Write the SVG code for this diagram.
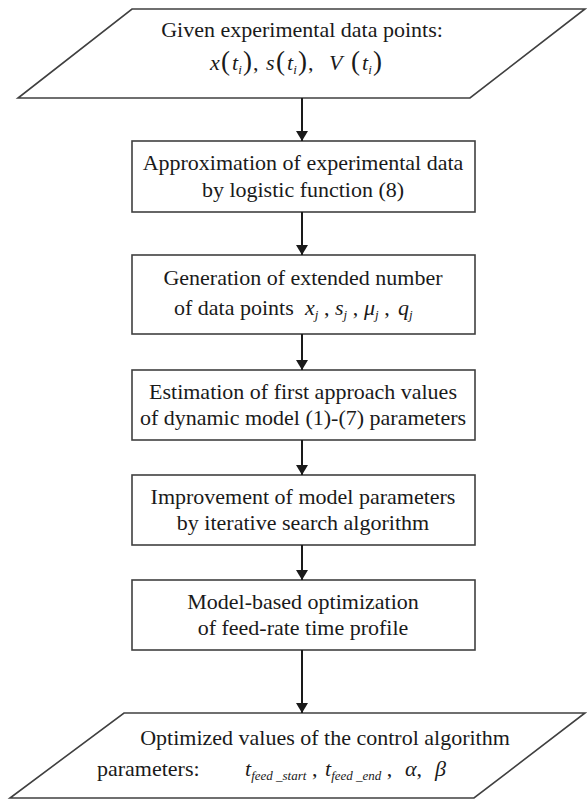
<svg xmlns="http://www.w3.org/2000/svg" width="587" height="801" viewBox="0 0 587 801">
<defs>
<style>
.shape{fill:#fff;stroke:#404040;stroke-width:1.6}
.t{font-family:'Liberation Serif','Times New Roman',Tinos,'DejaVu Serif',serif;font-size:22px;fill:#1a1a1a;text-anchor:middle}
.s{text-anchor:start}
.m{font-style:italic}
.sub{font-size:13px;font-style:italic}
.p{font-size:27px}
.conn line{stroke:#1a1a1a;stroke-width:2}
</style>
<marker id="ah" viewBox="0 0 10 12" refX="10" refY="6" markerWidth="12" markerHeight="12" markerUnits="userSpaceOnUse" orient="auto">
<path d="M0,0 L10,6 L0,12 z" fill="#1a1a1a"/>
</marker>
</defs>
<rect width="587" height="801" fill="#fff"/>
<g id="input">
<polygon class="shape" points="132,9 585,9 470,98 18,98"/>
<text class="t" x="302" y="37">Given experimental data points:</text>
<text class="t s" y="70"><tspan x="210" class="m">x</tspan><tspan x="221" class="p">(</tspan><tspan x="232" class="m">t</tspan><tspan class="sub" dy="4">i</tspan><tspan x="243" class="p" dy="-4">)</tspan><tspan x="253">,</tspan><tspan x="266" class="m">s</tspan><tspan x="276" class="p">(</tspan><tspan x="287" class="m">t</tspan><tspan class="sub" dy="4">i</tspan><tspan x="298" class="p" dy="-4">)</tspan><tspan x="308">,</tspan><tspan x="329" class="m">V</tspan><tspan x="351" class="p">(</tspan><tspan x="362" class="m">t</tspan><tspan class="sub" dy="4">i</tspan><tspan x="373" class="p" dy="-4">)</tspan></text>
</g>
<g id="approx">
<rect class="shape" x="132" y="141" width="343" height="71"/>
<text class="t" x="303" y="170">Approximation of experimental data</text>
<text class="t" x="303" y="197">by logistic function (8)</text>
</g>
<g id="generation">
<rect class="shape" x="132" y="255" width="343" height="79"/>
<text class="t" x="303" y="285">Generation of extended number</text>
<text class="t s" x="174" y="315">of data points<tspan x="305" class="m">x</tspan><tspan class="sub" dy="4">j</tspan><tspan dy="-4"> ,</tspan><tspan x="335" class="m">s</tspan><tspan class="sub" dy="4">j</tspan><tspan dy="-4"> ,</tspan><tspan x="364" class="m">μ</tspan><tspan class="sub" dy="4">j</tspan><tspan dy="-4"> ,</tspan><tspan x="398" class="m">q</tspan><tspan class="sub" dy="4">j</tspan></text>
</g>
<g id="estimation">
<rect class="shape" x="132" y="370" width="343" height="70"/>
<text class="t" x="303" y="399">Estimation of first approach values</text>
<text class="t" x="303" y="425">of dynamic model (1)-(7) parameters</text>
</g>
<g id="improvement">
<rect class="shape" x="132" y="475" width="343" height="70"/>
<text class="t" x="303" y="504">Improvement of model parameters</text>
<text class="t" x="303" y="530">by iterative search algorithm</text>
</g>
<g id="optimization">
<rect class="shape" x="132" y="580" width="343" height="70"/>
<text class="t" x="303" y="609">Model-based optimization</text>
<text class="t" x="303" y="635">of feed-rate time profile</text>
</g>
<g id="output">
<polygon class="shape" points="124,713 585,713 474,798 10,798"/>
<text class="t" x="325" y="745">Optimized values of the control algorithm</text>
<text class="t s" x="97" y="776">parameters:<tspan x="245" class="m">t</tspan><tspan class="sub" dy="4">feed _start</tspan><tspan dy="-4"> ,</tspan><tspan x="325" class="m">t</tspan><tspan class="sub" dy="4">feed _end</tspan><tspan dy="-4"> ,</tspan><tspan x="405" class="m">α</tspan><tspan>,</tspan><tspan x="435" class="m">β</tspan></text>
</g>
<g class="conn">
<line x1="302" y1="98" x2="302" y2="141" marker-end="url(#ah)"/>
<line x1="302" y1="212" x2="302" y2="255" marker-end="url(#ah)"/>
<line x1="302" y1="334" x2="302" y2="370" marker-end="url(#ah)"/>
<line x1="302" y1="440" x2="302" y2="475" marker-end="url(#ah)"/>
<line x1="302" y1="545" x2="302" y2="580" marker-end="url(#ah)"/>
<line x1="302" y1="650" x2="302" y2="713" marker-end="url(#ah)"/>
</g>
</svg>
